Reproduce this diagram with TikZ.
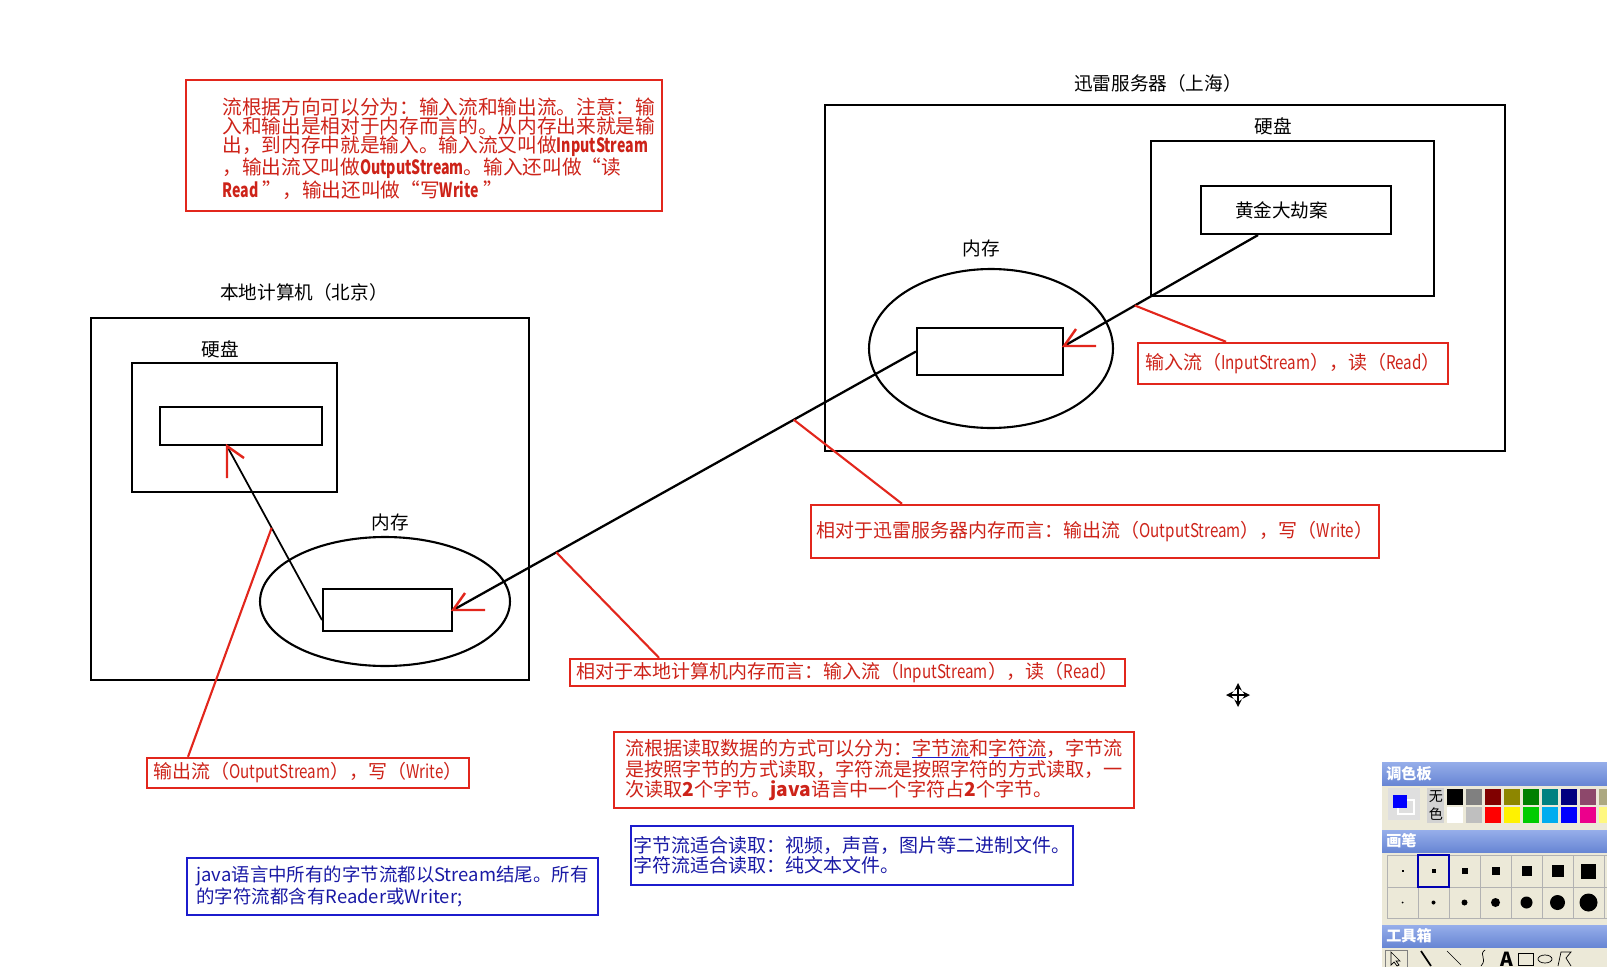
\documentclass[tikz,border=0pt]{standalone}
\usepackage{fontspec}
\usepackage{graphicx}
\setmainfont{Noto Sans CJK SC}
\usetikzlibrary{shapes.geometric}
\definecolor{penred}{RGB}{226,38,28}
\definecolor{inkred}{RGB}{205,35,25}
\definecolor{penblue}{RGB}{28,28,205}
\definecolor{inkblue}{RGB}{25,25,165}
\definecolor{panelbg}{RGB}{236,233,216}
\definecolor{bartop}{RGB}{150,174,234}
\definecolor{barbot}{RGB}{104,134,212}
\newsavebox\handbox
\newcommand\handline[1]{\sbox\handbox{#1}\rlap{\textcolor{penblue}{\rule[-1.6pt]{\wd\handbox}{1.1pt}}}#1}
\newcommand\lat[1]{\scalebox{0.8}[1]{#1}}
\newcommand\latb[1]{\scalebox{0.72}[1]{\textbf{#1}}}
\tikzset{
  filebox/.style={draw, line width=1.2pt, inner sep=0pt},
  wire/.style={line width=1.3pt},
  leader/.style={draw=penred, line width=1.2pt},
  redbox/.style={draw=penred, line width=1.4pt, text=inkred, inner sep=0pt, align=left},
  bluebox/.style={draw=penblue, line width=1.4pt, text=inkblue, inner sep=0pt, align=left},
  calfont/.style={font=\fontsize{10.8pt}{12pt}\selectfont},
  lbl/.style={font=\fontsize{10.6pt}{11pt}\selectfont},
  bartitle/.style={anchor=west, white, inner sep=0pt, font=\bfseries\fontsize{8.6pt}{9pt}\selectfont},
  redhook/.pic={\draw[penred, line width=1.4pt] (32,0) -- (0,0) -- (12,-17);},
}
\begin{document}
\begin{tikzpicture}[x=0.02cm, y=-0.02cm, >=stealth]
\useasboundingbox (0,0) rectangle (1607,967);

% 迅雷服务器
\node[lbl] (srvtitle) at (1158,83) {迅雷服务器（上海）};
\draw[line width=1.2pt] (825,105) rectangle (1505,451);
\node[lbl] (srvdisklbl) at (1273,126) {硬盘};
\draw[line width=1.2pt] (1151,141) rectangle (1434,296);
\node[filebox, minimum width=3.8cm, minimum height=0.96cm, text width=2.44cm, align=left, lbl] (gold) at (1296,210) {黄金大劫案};
\node[lbl] (srvmemlbl) at (981,248) {内存};
\node[draw, ellipse, line width=1.2pt, minimum width=4.88cm, minimum height=3.18cm, inner sep=0pt] (srvarea) at (991,348.5) {};
\node[filebox, minimum width=2.92cm, minimum height=0.94cm] (srvmem) at (990,351.5) {};

% 本地计算机
\node[lbl] (loctitle) at (304,292) {本地计算机（北京）};
\draw[line width=1.2pt] (91,318) rectangle (529,680);
\node[lbl] (locdisklbl) at (220,349) {硬盘};
\draw[line width=1.2pt] (132,363) rectangle (337,492);
\node[filebox, minimum width=3.24cm, minimum height=0.76cm] (locfile) at (241,426) {};
\node[lbl] (locmemlbl) at (390,522) {内存};
\node[draw, ellipse, line width=1.2pt, minimum width=5cm, minimum height=2.58cm, inner sep=0pt] (locarea) at (385,601.5) {};
\node[filebox, minimum width=2.58cm, minimum height=0.84cm] (locmem) at (387.5,610) {};

% 数据流向
\draw[wire] ([xshift=-0.76cm]gold.south) -- coordinate[pos=0.635] (tapin) ([yshift=0.11cm]srvmem.east) coordinate (tipsrv);
\pic at (tipsrv) {redhook};
\draw[wire] (srvmem.west) -- coordinate[pos=0.264] (tapsrv) coordinate[pos=0.777] (taploc) (locmem.east) coordinate (tiploc);
\pic at (tiploc) {redhook};
\draw[line width=1pt] ([yshift=-0.2cm]locmem.west) -- coordinate[pos=0.53] (tapout) ([xshift=-0.28cm]locfile.south) coordinate (tipfile);
\pic[rotate=-90] at (tipfile) {redhook};

% 说明
\node[redbox, calfont, minimum width=6.2cm, minimum height=0.82cm] (calin) at (1293,363.5) {输入流（\lat{InputStream}），读（\lat{Read}）};
\node[redbox, calfont, minimum width=11.36cm, minimum height=1.06cm] (calsrv) at (1095,531.5) {相对于迅雷服务器内存而言：输出流（\lat{OutputStream}），写（\lat{Write}）};
\node[redbox, calfont, minimum width=11.1cm, minimum height=0.54cm] (calloc) at (847.5,672.5) {相对于本地计算机内存而言：输入流（\lat{InputStream}），读（\lat{Read}）};
\node[redbox, calfont, minimum width=6.44cm, minimum height=0.6cm] (calout) at (308,773) {输出流（\lat{OutputStream}），写（\lat{Write}）};
\draw[leader] (tapin) -- (1226,0 |- calin.north);
\draw[leader] (tapsrv) -- (902,0 |- calsrv.north);
\draw[leader] (taploc) -- (659,0 |- calloc.north);
\draw[leader] (tapout) -- (188,0 |- calout.north);

\node[redbox, minimum width=9.52cm, minimum height=2.62cm] (notedir) at (424,145.5) {};
\node[text=inkred, align=left, anchor=north west, inner sep=0pt, font=\fontsize{11.2pt}{10.8pt}\selectfont] (notedirtext) at (222,97) {流根据方向可以分为：输入流和输出流。注意：输\\入和输出是相对于内存而言的。从内存出来就是输\\出，到内存中就是输入。输入流又叫做\latb{InputStream}\\，输出流又叫做\latb{OutputStream}。输入还叫做“读\\\latb{Read} ”，输出还叫做“写\latb{Write} ”};
\node[redbox, minimum width=10.4cm, minimum height=1.52cm, font=\fontsize{10.9pt}{11.6pt}\selectfont] (notebyte) at (874,770) {流根据读取数据的方式可以分为：\handline{字节流}和\handline{字符流}，字节流\\是按照字节的方式读取，字符流是按照字符的方式读取，一\\次读取\textbf{2}个字节。\textbf{java}语言中一个字符占\textbf{2}个字节。};
\node[bluebox, minimum width=8.84cm, minimum height=1.18cm, font=\fontsize{10.8pt}{10pt}\selectfont] (notefit) at (852,855.5) {字节流适合读取：视频，声音，图片等二进制文件。\\字符流适合读取：纯文本文件。};
\node[bluebox, minimum width=8.22cm, minimum height=1.14cm, font=\fontsize{10.5pt}{10.8pt}\selectfont] (notename) at (392.5,886.5) {java语言中所有的字节流都以Stream结尾。所有\\的字符流都含有Reader或Writer;};

% 光标
\draw[<->, line width=0.9pt] (1238,683) -- (1238,707);
\draw[<->, line width=0.9pt] (1226,695) -- (1250,695);

% 画图工具面板
\fill[panelbg] (1382,762) rectangle (1607,967);
\shade[top color=bartop, bottom color=barbot] (1382,762) rectangle (1607,785);
\node[bartitle] (palettitle) at (1386,773.5) {调色板};
\fill[gray!25] (1388,788) rectangle (1420,820);
\draw[white, line width=1pt] (1398,800) rectangle (1414,814);
\fill[blue] (1393,795) rectangle (1407,808);
\fill[gray!35] (1427,788) rectangle (1444,823);
\node[inner sep=0pt, font=\fontsize{8pt}{8pt}\selectfont] (nonea) at (1436,797) {无};
\node[inner sep=0pt, font=\fontsize{8pt}{8pt}\selectfont] (noneb) at (1436,814) {色};
\foreach \c [count=\i from 0] in {black, black!50, red!50!black, olive, green!50!black, teal, blue!50!black, magenta!50!black, yellow!25!gray}
  \fill[\c] ({1447+19*\i},789) rectangle ++(16,16);
\foreach \c [count=\i from 0] in {white, lightgray, red, yellow, green!80!black, cyan, blue, magenta, yellow!50!white}
  \fill[\c] ({1447+19*\i},807) rectangle ++(16,16);
\shade[top color=bartop, bottom color=barbot] (1382,830) rectangle (1607,852);
\node[bartitle] (brushtitle) at (1386,841) {画笔};
\foreach \i in {0,...,7}
  \draw[gray!60] ({1387+31*\i},855) rectangle ++(31,63);
\draw[gray!60] (1387,887) -- (1607,887);
\foreach \s [count=\i from 0] in {2,4,6,8,10,12,15}
  \fill ({1402.5+31*\i-\s/2},{871-\s/2}) rectangle ++(\s,\s);
\foreach \d [count=\i from 0] in {2,4,6,9,12,15,18}
  \fill ({1402.5+31*\i},902.5) circle ({\d/2});
\draw[blue!70!black, line width=1.2pt] (1418,855) rectangle (1449,887);
\shade[top color=bartop, bottom color=barbot] (1382,925) rectangle (1607,947);
\node[bartitle] (tooltitle) at (1386,936) {工具箱};
\draw[gray] (1385,950) rectangle (1407,969);
\draw (1391,952) -- (1391,965) -- (1394,962) -- (1397,966) -- (1399,965) -- (1396,961) -- (1400,961) -- cycle;
\draw[line width=1pt] (1421,951) -- (1431,966);
\draw (1447,951) -- (1461,965);
\draw (1485,950) .. controls (1478,955) and (1488,958) .. (1481,966);
\node[inner sep=0pt, font=\bfseries\fontsize{11pt}{11pt}\selectfont] (tooltext) at (1507,959) {A};
\draw (1518,953) rectangle (1533,965);
\draw (1545,959) ellipse [x radius=7, y radius=4];
\draw (1558,966) -- (1561,952) -- (1571,952) -- (1566,958) -- (1571,966);
\end{tikzpicture}
\end{document}
